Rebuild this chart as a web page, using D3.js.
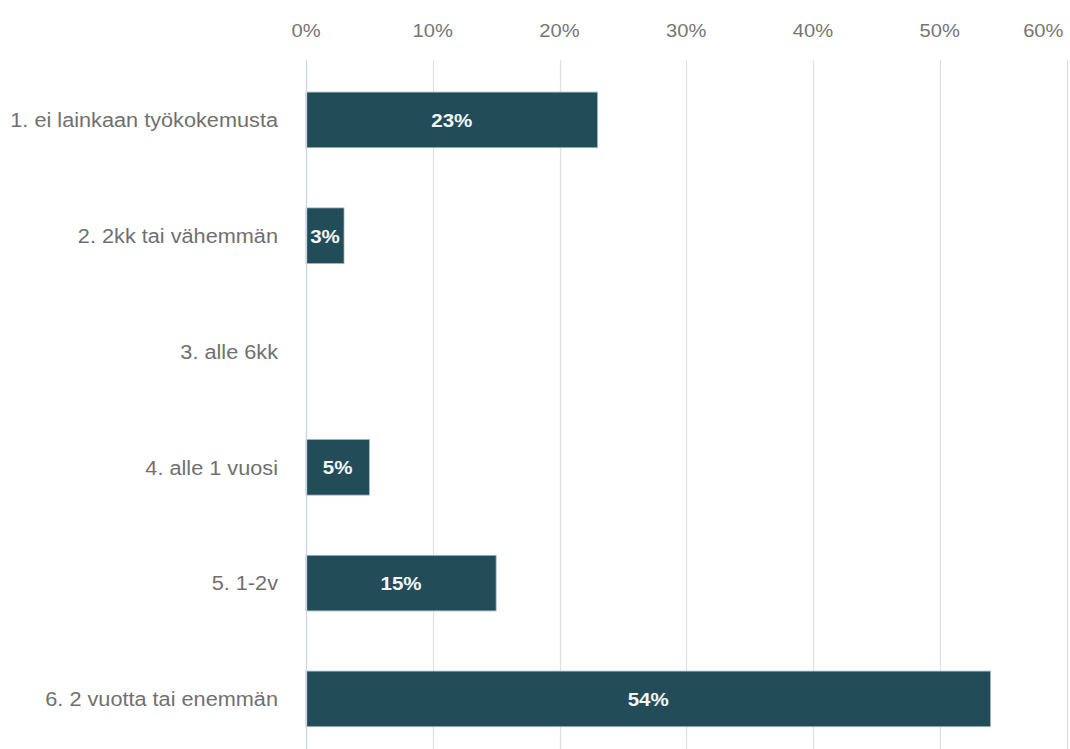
<!DOCTYPE html>
<html>
<head>
<meta charset="utf-8">
<script src="https://cdn.jsdelivr.net/npm/d3@7"></script>
<style>
  html, body { margin: 0; padding: 0; background: #fff; }
  svg { display: block; font-family: "Liberation Sans", Arial, sans-serif; }
</style>
</head>
<body>
<svg id="chart" width="1070" height="749"></svg>
<script>
// Work experience categories and their shares (%)
const categories = [
  "1. ei lainkaan työkokemusta",
  "2. 2kk tai vähemmän",
  "3. alle 6kk",
  "4. alle 1 vuosi",
  "5. 1-2v",
  "6. 2 vuotta tai enemmän"
];
const shares = [23, 3, 0, 5, 15, 54];
const tickValues = [0, 10, 20, 30, 40, 50, 60];

const width = 1070, height = 749;
const margin = { left: 306, top: 62 };

const svg = d3.select("#chart");

const x = d3.scaleLinear().domain([0, 60]).range([margin.left, 1066.5]);
const y = d3.scaleBand()
  .domain(categories)
  .range([margin.top, margin.top + 115.8 * categories.length])
  .paddingInner(0.52)
  .paddingOuter(0.26);

// text is drawn slightly widened horizontally
const wide = (tx, ty, sx) => `translate(${tx},${ty}) scale(${sx},1)`;

// vertical gridlines
svg.append("g")
  .selectAll("line")
  .data(tickValues.slice(1))
  .join("line")
  .attr("x1", d => Math.round(x(d)) + 0.5)
  .attr("x2", d => Math.round(x(d)) + 0.5)
  .attr("y1", 60)
  .attr("y2", height)
  .attr("stroke", "#e0e0e0")
  .attr("stroke-width", 1.3);

// tick labels along the top
const lastTick = tickValues[tickValues.length - 1];
svg.append("g")
  .selectAll("text")
  .data(tickValues)
  .join("text")
  .attr("transform", d => wide(d === lastTick ? x(d) - 3 : x(d), 37, 1.12))
  .attr("text-anchor", d => d === lastTick ? "end" : "middle")
  .attr("fill", "#757575")
  .attr("font-size", 18)
  .text(d => d + "%");

const barData = categories.map((c, i) => ({ c, v: shares[i] })).filter(d => d.v > 0);

// bars
svg.append("g")
  .selectAll("rect")
  .data(barData)
  .join("rect")
  .attr("x", x(0))
  .attr("y", d => y(d.c))
  .attr("width", d => x(d.v) - x(0))
  .attr("height", y.bandwidth())
  .attr("fill", "#234c59")
  .attr("stroke", "#9fb6c0")
  .attr("stroke-width", 0.8);

// baseline at 0%
svg.append("line")
  .attr("x1", x(0) + 0.5)
  .attr("x2", x(0) + 0.5)
  .attr("y1", 60)
  .attr("y2", height)
  .attr("stroke", "#c9d6ea")
  .attr("stroke-width", 1.3);

// value labels inside bars
svg.append("g")
  .selectAll("text")
  .data(barData)
  .join("text")
  .attr("transform", d => wide((x(0) + x(d.v)) / 2, y(d.c) + y.bandwidth() / 2, 1.08))
  .attr("dy", "0.36em")
  .attr("text-anchor", "middle")
  .attr("fill", "#f4f6f7")
  .attr("font-size", 19)
  .attr("font-weight", "bold")
  .text(d => d.v + "%");

// category labels
svg.append("g")
  .selectAll("text")
  .data(categories)
  .join("text")
  .attr("transform", d => wide(278, y(d) + y.bandwidth() / 2, 1.085))
  .attr("dy", "0.36em")
  .attr("text-anchor", "end")
  .attr("fill", "#707070")
  .attr("font-size", 20)
  .text(d => d);
</script>
</body>
</html>
